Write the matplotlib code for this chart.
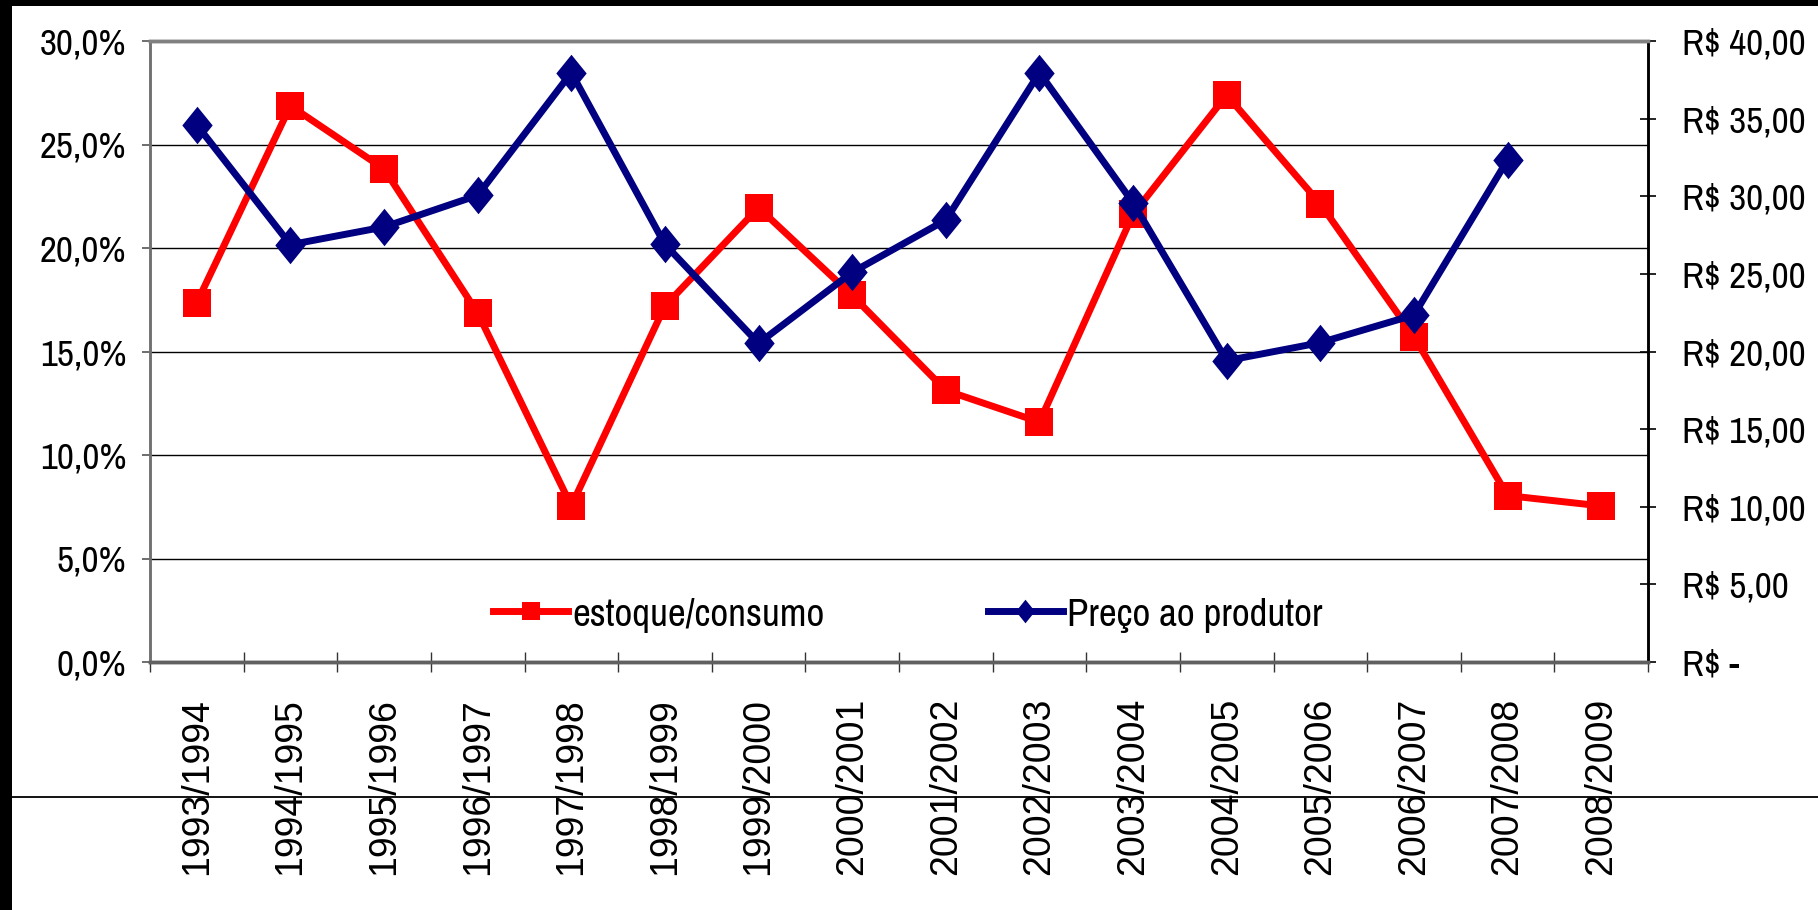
import matplotlib
matplotlib.use("Agg")
import matplotlib.pyplot as plt
from matplotlib.lines import Line2D
from matplotlib.patches import Rectangle
import numpy as np

# ---- data ----
categories = ["1993/1994", "1994/1995", "1995/1996", "1996/1997", "1997/1998",
              "1998/1999", "1999/2000", "2000/2001", "2001/2002", "2002/2003",
              "2003/2004", "2004/2005", "2005/2006", "2006/2007", "2007/2008",
              "2008/2009"]
estoque_consumo = [0.1736, 0.2687, 0.2382, 0.1686, 0.0754, 0.1720, 0.2195, 0.1771,
                   0.1312, 0.1159, 0.2163, 0.2739, 0.2213, 0.1572, 0.0804, 0.0754]
preco_produtor = [34.59, 26.88, 28.02, 30.06, 37.96, 26.90, 20.53, 25.10,
                  28.47, 37.96, 29.58, 19.41, 20.57, 22.35, 32.34, np.nan]
left_ticks = [0.0, 0.05, 0.10, 0.15, 0.20, 0.25, 0.30]
left_labels = ["0,0%", "5,0%", "10,0%", "15,0%", "20,0%", "25,0%", "30,0%"]
right_ticks = [0, 5, 10, 15, 20, 25, 30, 35, 40]
right_labels = ["R$ -", "R$ 5,00", "R$ 10,00", "R$ 15,00", "R$ 20,00",
                "R$ 25,00", "R$ 30,00", "R$ 35,00", "R$ 40,00"]
series_names = ["estoque/consumo", "Preço ao produtor"]

narrow = ["Pragati Narrow", "Roboto Condensed", "Liberation Sans", "DejaVu Sans"]
normal = ["Liberation Sans", "DejaVu Sans"]
plt.rcParams["font.family"] = narrow

W, H = 1818, 910
fig = plt.figure(figsize=(W / 100, H / 100), dpi=100)
fig.patch.set_facecolor("white")

ax = fig.add_axes([150 / W, 1 - 662 / H, (1648 - 150) / W, (662 - 41) / H])
ax2 = ax.twinx()

x = np.arange(len(categories))
red = "#FF0000"
navy = "#000080"

ax.set_ylim(0, 0.30)
ax.set_xlim(-0.5, len(categories) - 0.5)
ax.set_yticks(left_ticks)
ax.set_yticklabels(left_labels)
ax.yaxis.grid(True, color="black", linewidth=1.0)
ax.set_axisbelow(True)

ax.plot(x, estoque_consumo, color=red, linewidth=5, marker="s", markersize=20,
        markeredgewidth=0, zorder=3, label=series_names[0])

diamond = [(0, 1), (0.81, 0), (0, -1), (-0.81, 0), (0, 1)]
ax2.set_ylim(0, 40)
ax2.plot(x, preco_produtor, color=navy, linewidth=5, marker=diamond, markersize=27,
         markeredgewidth=0, zorder=3, label=series_names[1])
ax2.set_yticks(right_ticks)
ax2.set_yticklabels(right_labels)

# x ticks: labels at centers, tick marks at bin edges
ax.set_xticks(x)
ax.set_xticklabels(categories, rotation=90, fontsize=27, family=normal)
ax.tick_params(axis="x", which="major", length=0, pad=26)
ax.set_xticks(np.arange(-0.5, len(categories), 1.0), minor=True)
ax.tick_params(axis="x", which="minor", direction="inout", length=15, width=1.0,
               color="#333333")

ax.tick_params(axis="y", which="major", direction="out", length=6, width=1.2,
               labelsize=29, pad=11, color="#555555")
ax2.tick_params(axis="y", which="major", direction="inout", length=11.5, width=1.2,
                labelsize=29, pad=19, color="black")

for t in ax.get_yticklabels() + ax2.get_yticklabels():
    t.set_family(narrow)

for a in (ax, ax2):
    a.spines["top"].set_color("#808080")
    a.spines["top"].set_linewidth(2.5)
    a.spines["left"].set_color("#707070")
    a.spines["left"].set_linewidth(1.8)
    a.spines["bottom"].set_color("#606060")
    a.spines["bottom"].set_linewidth(2.5)
    a.spines["right"].set_color("black")
    a.spines["right"].set_linewidth(1.8)

# legend
handles = [
    Line2D([], [], color=red, linewidth=5, marker="s", markersize=13, markeredgewidth=0),
    Line2D([], [], color=navy, linewidth=5, marker=diamond, markersize=17, markeredgewidth=0),
]
leg = ax2.legend(handles, series_names, loc="center left", bbox_to_anchor=(0.229, 0.077),
                 ncol=2, frameon=False, fontsize=30.5, handlelength=1.77,
                 handletextpad=0.1, columnspacing=3.85, borderaxespad=0, borderpad=0)
for t in leg.get_texts():
    t.set_family(narrow)

# black frame strips and separating line
fig.patches.append(Rectangle((0, 0), 12 / W, 1, transform=fig.transFigure,
                             facecolor="black", edgecolor="none", zorder=10))
fig.patches.append(Rectangle((0, 1 - 6 / H), 1, 6 / H, transform=fig.transFigure,
                             facecolor="black", edgecolor="none", zorder=10))
fig.lines.append(Line2D([12 / W, 1], [1 - 797 / H, 1 - 797 / H], transform=fig.transFigure,
                        color="black", linewidth=1.3, zorder=10))

fig.savefig("out.png", dpi=100, facecolor="white")
